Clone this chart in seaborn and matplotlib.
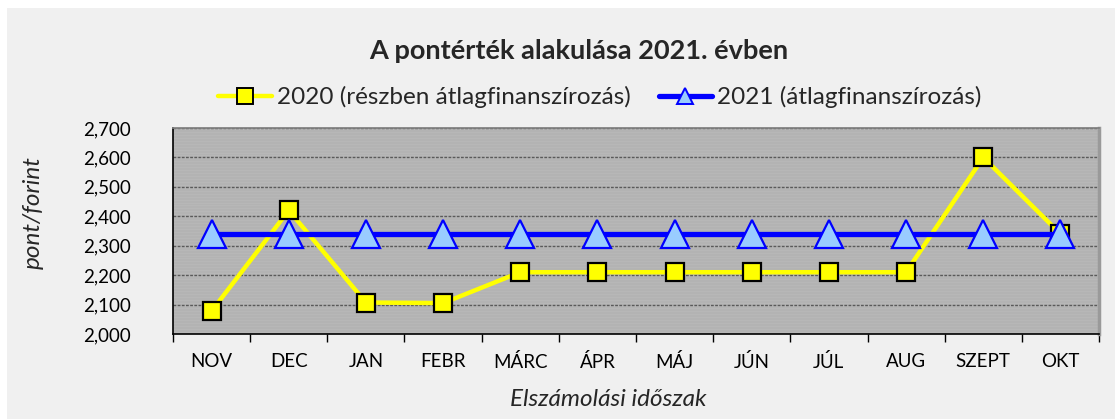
import matplotlib.pyplot as plt
import matplotlib.patches as mpatches
import seaborn as sns
import numpy as np
import pandas as pd

months = ['NOV', 'DEC', 'JAN', 'FEBR', 'MÁRC', 'ÁPR', 'MÁJ', 'JÚN', 'JÚL', 'AUG', 'SZEPT', 'OKT']
vals_2020 = [2.078, 2.420, 2.107, 2.105, 2.210, 2.210, 2.210, 2.210, 2.210, 2.210, 2.600, 2.340]
vals_2021 = [2.340] * 12
label_2020 = '2020 (részben átlagfinanszírozás)'
label_2021 = '2021 (átlagfinanszírozás)'
yticks = [2.0, 2.1, 2.2, 2.3, 2.4, 2.5, 2.6, 2.7]

df = pd.DataFrame({'honap': months, 'v2020': vals_2020, 'v2021': vals_2021})
df['pos'] = np.arange(len(months))

sns.set_theme(style='white')
plt.rcParams['font.family'] = ['Lato', 'DejaVu Sans']

fig = plt.figure(figsize=(11.15, 4.19), dpi=100)
fig.patch.set_facecolor('white')
# gray chart area (Excel style frame)
fig.patches.append(mpatches.Rectangle((7 / 1115, 0), 1 - 7 / 1115, 1 - 8 / 419,
                                      transform=fig.transFigure, facecolor='#f0f0f0',
                                      edgecolor='none', zorder=-10))
ax = fig.add_axes([173 / 1115, 1 - 334 / 419, (1099 - 173) / 1115, (334 - 128) / 419])
ax.set_facecolor('#c0c0c0')

# faint horizontal texture of the plot area
stripes = np.tile(np.array([[0.0], [1.0], [0.0]]), (70, 1))
ax.imshow(stripes, extent=(-0.5, 11.5, 2.0, 2.7), aspect='auto', cmap='Greys_r',
          vmin=-8, vmax=9, alpha=0.25, zorder=0, interpolation='nearest')

for y in yticks[1:]:
    ax.axhline(y, color='#5a5a5a', lw=1.0, ls=(0, (2, 1)), zorder=1)

sns.lineplot(data=df, x='pos', y='v2020', ax=ax, color='#ffff00', lw=3.2, marker='s',
             markersize=13.5, markerfacecolor='#ffff00', markeredgecolor='black',
             markeredgewidth=1.6, label=label_2020, zorder=3, sort=False)
sns.lineplot(data=df, x='pos', y='v2021', ax=ax, color='#0000ff', lw=3.8, marker='^',
             markersize=19.5, markerfacecolor='#99ccff', markeredgecolor='#0000ff',
             markeredgewidth=1.6, label=label_2021, zorder=4, sort=False)

ax.set_xlim(-0.5, 11.5)
ax.set_ylim(2.0, 2.7)
ax.set_yticks(yticks)
ax.set_yticklabels([f'{v:.3f}'.replace('.', ',') for v in yticks], fontsize=13.5)
ax.set_xticks(np.arange(len(months)))
ax.set_xticklabels(months, fontsize=13.5)
ax.set_xticks(np.arange(-0.5, 12, 1), minor=True)
ax.tick_params(axis='x', which='major', length=0, pad=14)
ax.tick_params(axis='x', which='minor', length=6, width=1, color='black', direction='out')
ax.tick_params(axis='y', length=6, width=1, color='black', direction='out', pad=24)
ax.tick_params(axis='both', colors='black', labelcolor='black')
ax.tick_params(axis='x', which='minor', bottom=True)

ax.set_xlabel('Elszámolási időszak', fontsize=17.5, style='italic')
ax.set_ylabel('pont/forint', fontsize=17.5, style='italic')
ax.xaxis.set_label_coords(0.47, -0.265)
ax.yaxis.set_label_coords(-0.14, 0.59)

ax.spines['left'].set_color('black')
ax.spines['bottom'].set_color('black')
ax.spines['left'].set_linewidth(1.2)
ax.spines['bottom'].set_linewidth(1.2)
ax.spines['top'].set_color('#7f7f7f')
ax.spines['right'].set_color('#9a9a9a')
ax.spines['right'].set_linewidth(2.5)

handles, labels = ax.get_legend_handles_labels()
ax.get_legend().remove()
leg = fig.legend(handles, labels, loc='center', bbox_to_anchor=(0.538, 1 - 97 / 419), ncol=2,
                 frameon=False, fontsize=17.5, handlelength=2.2,
                 handletextpad=0.2, columnspacing=1.15, borderpad=0)
for h in leg.legend_handles:
    h.set_markersize(11.5)
    h.set_markeredgewidth(1.4)

fig.text(0.519, 1 - 51 / 419, 'A pontérték alakulása 2021. évben', ha='center', va='center',
         fontsize=19.5, fontweight='bold')

fig.savefig('out.png', dpi=100)
